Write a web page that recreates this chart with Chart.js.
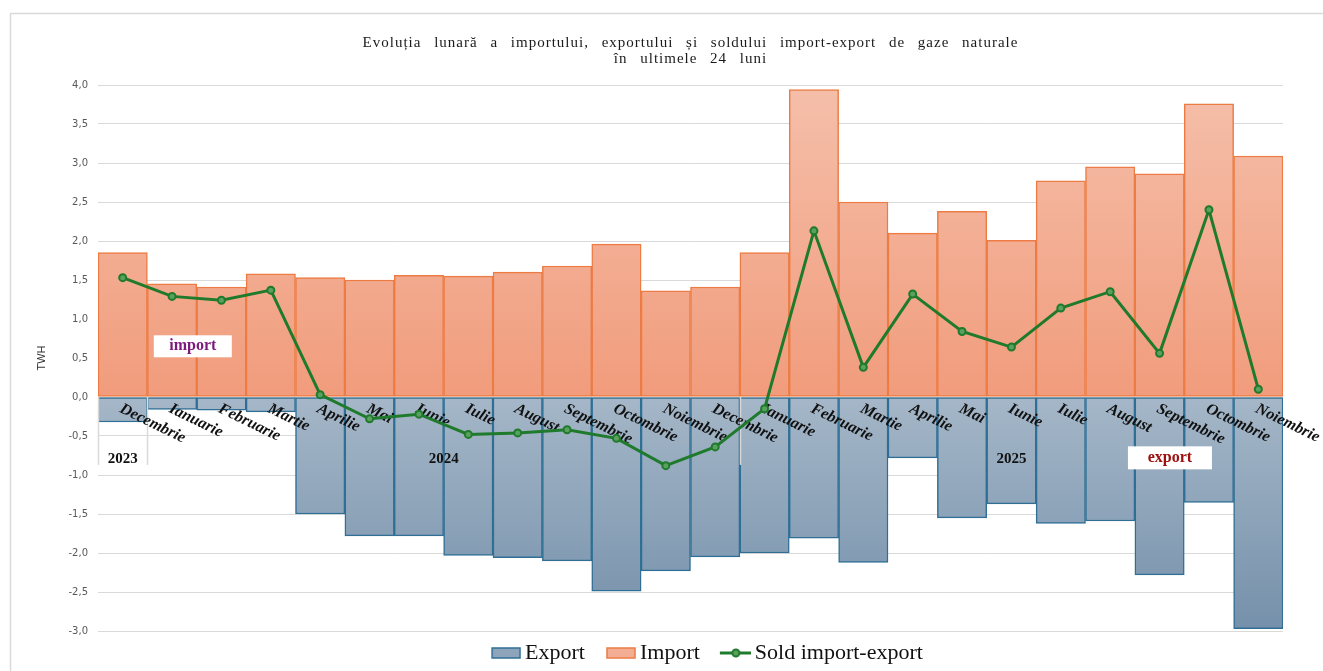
<!DOCTYPE html>
<html>
<head>
<meta charset="utf-8">
<script src="https://cdn.jsdelivr.net/npm/chart.js@4.4.1/dist/chart.umd.min.js"></script>
<style>
  html, body { margin: 0; padding: 0; background: #fff; }
  #wrap { width: 1323px; height: 671px; }
</style>
</head>
<body>
<div id="wrap"><canvas id="chart" width="1323" height="671"></canvas></div>
<script>
// months Dec 2023 .. Nov 2025
const months = ["Decembrie", "Ianuarie", "Februarie", "Martie", "Aprilie", "Mai", "Iunie", "Iulie",
  "August", "Septembrie", "Octombrie", "Noiembrie", "Decembrie", "Ianuarie", "Februarie", "Martie",
  "Aprilie", "Mai", "Iunie", "Iulie", "August", "Septembrie", "Octombrie", "Noiembrie"];
const yearLabels = ["2023", "2024", "2025"];
const yearStarts = [0, 1, 13];
const titleLines = ["Evoluția lunară a importului, exportului și soldului import-export de gaze naturale",
  "în ultimele 24 luni"];

const importVals = [1.85, 1.45, 1.41, 1.58, 1.53, 1.50, 1.56, 1.55, 1.60, 1.68, 1.96, 1.36,
  1.41, 1.85, 3.94, 2.50, 2.10, 2.38, 2.01, 2.77, 2.95, 2.86, 3.76, 3.09];
const exportVals = [-0.32, -0.16, -0.17, -0.19, -1.50, -1.78, -1.78, -2.03, -2.06, -2.10, -2.49, -2.23,
  -2.05, -2.00, -1.81, -2.12, -0.78, -1.55, -1.37, -1.62, -1.59, -2.28, -1.35, -2.97];
const soldVals = [1.53, 1.29, 1.24, 1.37, 0.03, -0.28, -0.22, -0.48, -0.46, -0.42, -0.53, -0.88,
  -0.64, -0.15, 2.13, 0.38, 1.32, 0.84, 0.64, 1.14, 1.35, 0.56, 2.40, 0.10];

const serif = "'Liberation Serif', 'Times New Roman', serif";

// gradient fill for the bars, from the zero line outwards
function barGradient(ctx, kind) {
  const chart = ctx.chart;
  const area = chart.chartArea;
  if (!area) return kind === "imp" ? "#f3ad93" : "#8ea4ba";
  const y0 = chart.scales.y.getPixelForValue(0);
  const yEnd = kind === "imp" ? area.top : area.bottom;
  const g = chart.ctx.createLinearGradient(0, y0, 0, yEnd);
  if (kind === "imp") {
    g.addColorStop(0, "#f19c7c");
    g.addColorStop(1, "#f5bfaa");
  } else {
    g.addColorStop(0, "#a5b7c8");
    g.addColorStop(1, "#7590aa");
  }
  return g;
}

// legend icons: 50px wide canvas, visible part on the right 30px
function boxIcon(fill, stroke) {
  const cv = document.createElement("canvas");
  cv.width = 50; cv.height = 12;
  const c = cv.getContext("2d");
  c.fillStyle = fill;
  c.fillRect(21, 1, 28, 10);
  c.strokeStyle = stroke;
  c.lineWidth = 1.5;
  c.strokeRect(21, 1, 28, 10);
  return cv;
}
function lineIcon() {
  const cv = document.createElement("canvas");
  cv.width = 50; cv.height = 12;
  const c = cv.getContext("2d");
  c.strokeStyle = "#1f7a2c";
  c.lineWidth = 3;
  c.beginPath(); c.moveTo(19, 6); c.lineTo(50, 6); c.stroke();
  c.fillStyle = "#5aa05f";
  c.lineWidth = 2;
  c.beginPath(); c.arc(35, 6, 3.5, 0, Math.PI * 2); c.fill(); c.stroke();
  return cv;
}
const legendIcons = [boxIcon("#8ea4ba", "#2f6f95"), boxIcon("#f3ad93", "#ec7c44"), lineIcon()];

// frame, title, month labels, year groups and the two text boxes
const decorPlugin = {
  id: "decor",
  afterLayout(chart) {
    // the legend sits a bit right of centre in the original
    chart.legend.left += 54;
    chart.legend.right += 54;
    chart.legend.top += 3;
    chart.legend.bottom += 3;
  },
  beforeDraw(chart) {
    const ctx = chart.ctx;
    const a = chart.chartArea;
    ctx.save();
    ctx.strokeStyle = "#d9d9d9";
    ctx.lineWidth = 1.5;
    ctx.beginPath();
    ctx.moveTo(10.5, 671); ctx.lineTo(10.5, 13.5); ctx.lineTo(1323, 13.5);
    ctx.stroke();

    // title, spaced out like the original
    ctx.fillStyle = "#1a1a1a";
    ctx.font = "15px " + serif;
    ctx.textAlign = "center";
    ctx.textBaseline = "middle";
    ctx.letterSpacing = "1px";
    ctx.wordSpacing = "8px";
    const cx = (a.left + a.right) / 2;
    titleLines.forEach((t, i) => ctx.fillText(t, cx, 43 + i * 16));
    ctx.restore();
  },
  beforeDatasetDraw(chart, args) {
    if (args.index !== 2) return;
    const ctx = chart.ctx;
    const x = chart.scales.x, y = chart.scales.y;
    const y0 = y.getPixelForValue(0);
    const half = (x.getPixelForValue(1) - x.getPixelForValue(0)) / 2;
    ctx.save();

    // year group separators
    ctx.strokeStyle = "#d9d9d9";
    ctx.lineWidth = 1.5;
    const yBottom = y.getPixelForValue(-0.87);
    yearStarts.forEach(i => {
      const px = Math.round(x.getPixelForValue(i) - half) + 0.5;
      ctx.beginPath(); ctx.moveTo(px, y0); ctx.lineTo(px, yBottom); ctx.stroke();
    });

    // year labels
    ctx.fillStyle = "#111";
    ctx.font = "bold 15px " + serif;
    ctx.textAlign = "center";
    ctx.textBaseline = "middle";
    yearLabels.forEach((lab, k) => {
      const a = yearStarts[k];
      const b = k + 1 < yearStarts.length ? yearStarts[k + 1] - 1 : months.length - 1;
      const cx = (x.getPixelForValue(a) + x.getPixelForValue(b)) / 2;
      ctx.fillText(lab, cx, y.getPixelForValue(-0.8));
    });

    // slanted month labels
    ctx.font = "italic bold 16px " + serif;
    ctx.textAlign = "left";
    months.forEach((m, i) => {
      ctx.save();
      ctx.translate(x.getPixelForValue(i) - 2, y0 + 11);
      ctx.rotate(26 * Math.PI / 180);
      ctx.fillText(m, 0, 0);
      ctx.restore();
    });

    // "import" / "export" boxes
    const box = (txt, col, xv, yv, w, h) => {
      const cx = x.getPixelForValue(xv), cy = y.getPixelForValue(yv);
      ctx.fillStyle = "#fff";
      ctx.fillRect(cx - w / 2, cy - h / 2, w, h);
      ctx.fillStyle = col;
      ctx.font = "bold 16px " + serif;
      ctx.textAlign = "center";
      ctx.fillText(txt, cx, cy);
    };
    box("import", "#7b1a7b", 1.42, 0.65, 78, 22);
    box("export", "#a01010", 21.21, -0.78, 84, 23);
    ctx.restore();
  }
};

new Chart(document.getElementById("chart"), {
  data: {
    labels: months,
    datasets: [
      {
        type: "bar",
        label: "Export",
        data: exportVals,
        backgroundColor: c => barGradient(c, "exp"),
        borderColor: "#2f6f95",
        borderWidth: 1.5,
        borderSkipped: false,
        grouped: false,
        barPercentage: 1,
        categoryPercentage: 1,
        order: 1
      },
      {
        type: "bar",
        label: "Import",
        data: importVals,
        backgroundColor: c => barGradient(c, "imp"),
        borderColor: "#ec7c44",
        borderWidth: 1.5,
        borderSkipped: false,
        grouped: false,
        barPercentage: 1,
        categoryPercentage: 1,
        order: 1
      },
      {
        type: "line",
        label: "Sold import-export",
        data: soldVals,
        borderColor: "#1f7a2c",
        borderWidth: 3,
        pointRadius: 3.5,
        pointBorderWidth: 2,
        pointBackgroundColor: "#5aa05f",
        pointBorderColor: "#1f7a2c",
        tension: 0,
        order: 0
      }
    ]
  },
  options: {
    responsive: false,
    animation: false,
    layout: { padding: { left: 10, right: 40, top: 85, bottom: 0 } },
    scales: {
      x: {
        display: false,
        offset: true
      },
      y: {
        min: -3,
        max: 4,
        afterFit: s => { s.width = 88; },
        ticks: {
          stepSize: 0.5,
          padding: 10,
          color: "#595959",
          font: { family: "'DejaVu Sans', Verdana, sans-serif", size: 10 },
          callback: v => v.toFixed(1).replace(".", ",")
        },
        grid: { color: "#d9d9d9", lineWidth: 1, drawTicks: false },
        border: { display: false },
        title: {
          display: true,
          text: "TWH",
          color: "#333",
          font: { family: "'Liberation Sans', Arial, sans-serif", size: 11 },
          padding: { top: 25, bottom: 0 }
        }
      }
    },
    plugins: {
      title: { display: false },
      legend: {
        position: "bottom",
        labels: {
          color: "#111",
          font: { family: serif, size: 22 },
          usePointStyle: true,
          pointStyleWidth: 36,
          padding: 8,
          generateLabels: chart => chart.data.datasets.map((ds, i) => ({
            text: ds.label,
            pointStyle: legendIcons[i],
            datasetIndex: i,
            fontColor: "#111",
            hidden: false,
            lineWidth: 0
          }))
        }
      },
      tooltip: { enabled: false }
    }
  },
  plugins: [decorPlugin]
});
</script>
</body>
</html>
